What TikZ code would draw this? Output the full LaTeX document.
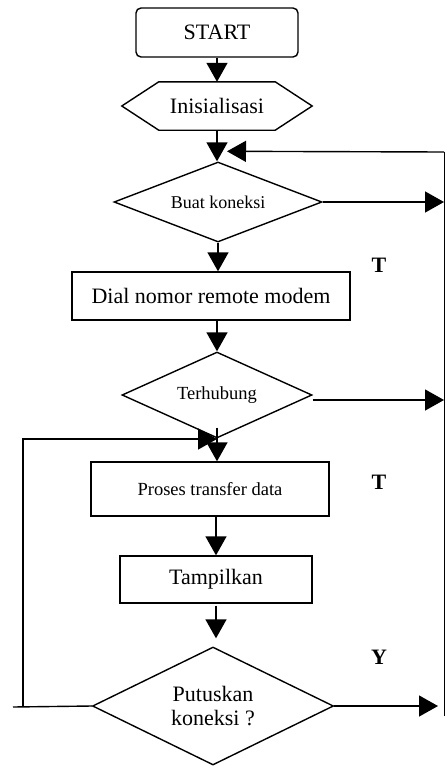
\documentclass[tikz,border=0pt]{standalone}
\usepackage{fontspec}
\setmainfont{Liberation Serif}
\usetikzlibrary{arrows.meta,calc,positioning,shapes.geometric}

\begin{document}
\begin{tikzpicture}[x=1pt,y=-1pt,
        every node/.style={inner sep=0pt},
        big/.style={font=\fontsize{22}{24}\selectfont},
        mid/.style={font=\fontsize{18.5}{20}\selectfont},
        box/.style={draw,line width=1.4pt,rectangle},
        dec/.style={draw,line width=1.4pt,diamond},
        flow/.style={line width=1.4pt,-{Triangle[width=21pt,length=19pt]}},
        yt/.style={font=\bfseries\fontsize{22}{24}\selectfont}]
        \useasboundingbox (0,0) rectangle (445,766);
        \node(start) [box,big,rounded corners=5pt,minimum width=162pt,minimum height=49pt] at (217,32.5) {START};
        \node(init) [big,minimum width=190pt,minimum height=48pt] at (217,106) {Inisialisasi};
        \draw[line width=1.4pt] (init.west) -- ([xshift=37pt]init.north west) -- ([xshift=-37pt]init.north east)
          -- (init.east) -- ([xshift=-37pt]init.south east) -- ([xshift=37pt]init.south west) -- cycle;
        \node(buat) [dec,font=\fontsize{18}{20}\selectfont,aspect=2.6,minimum width=208pt,minimum height=80pt] at (218,202) {Buat koneksi};
        \node(dial) [box,big,minimum width=278pt,minimum height=48pt] at (211,296) {Dial nomor remote modem};
        \node(hub) [dec,mid,aspect=2.2,minimum width=190pt,minimum height=86pt] at (217,395) {Terhubung};
        \node(proses) [box,mid,minimum width=238pt,minimum height=54pt] at (210,489) {Proses transfer data};
        \node(tampil) [box,big,minimum width=192pt,minimum height=47pt] at (216,579.5) {Tampilkan};
        \node(putus) [dec,big,align=center,aspect=2,minimum width=241pt,minimum height=118pt] at (213,706) {Putuskan\\koneksi ?};
        \node(t1) [yt] at (379,265) {T};
        \node(t2) [yt] at (379,482) {T};
        \node(y1) [yt] at (379,657) {Y};
        \coordinate(rtop) at (444,152);
        \coordinate(rbot) at (444,716);
        \coordinate(lcorner) at (23,439);
        \coordinate(lend) at (13,707);
        \draw[flow] (start.south) -- (init.north);
        \draw[flow] (init.south) -- (init.south |- buat.north);
        \draw[line width=0.9pt] (rbot) -- (rtop);
        \draw[flow] (rtop) -- ([shift={(9,-10)}]buat.north);
        \draw[flow] (buat.east) -- (buat.east -| rtop);
        \draw[flow] (buat.south) -- (buat.south |- dial.north);
        \draw[flow] (hub.north |- dial.south) -- (hub.north);
        \draw[flow] ([yshift=-5pt]hub.east) -- ([yshift=-5pt]hub.east -| rtop);
        \draw[flow] ([yshift=11pt]hub.south) -- (hub.south |- proses.north);
        \draw[line width=1.4pt] (lend) -- (putus.west);
        \draw[flow] (lcorner |- putus.west) -- (lcorner) -- (hub.south |- lcorner);
        \draw[flow] (proses.south -| tampil.north) -- (tampil.north);
        \draw[flow] ([yshift=-2pt]tampil.south) -- ([yshift=8pt]tampil.south |- putus.north);
        \draw[flow] (putus.east) -- ([xshift=-6pt]putus.east -| rtop);
      \end{tikzpicture}
\end{document}
